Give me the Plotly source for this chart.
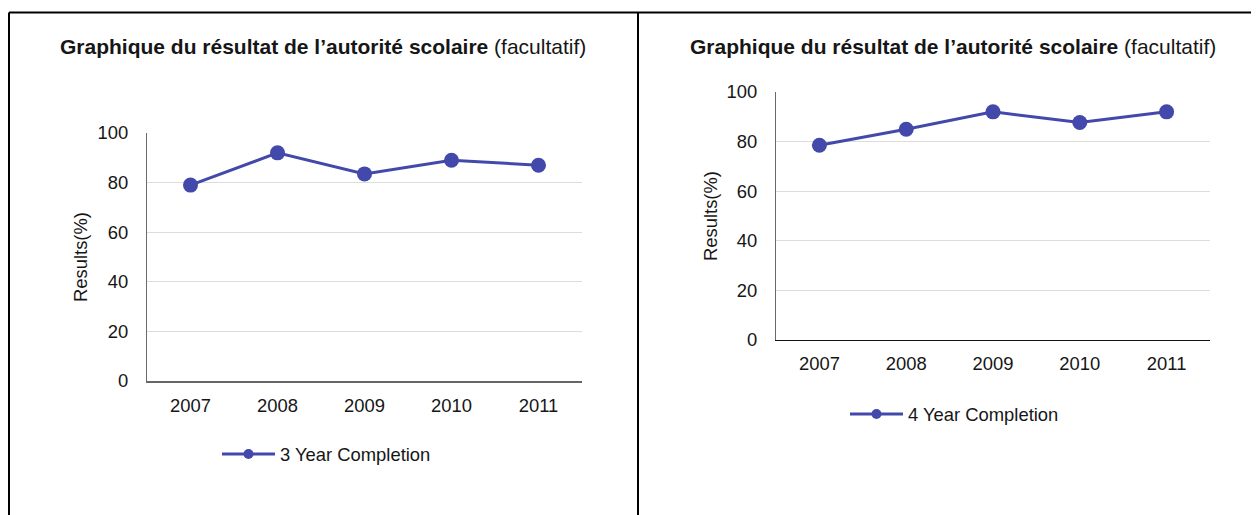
import plotly.graph_objects as go

# data
years = ["2007", "2008", "2009", "2010", "2011"]
three_year = [79, 92, 83.5, 89, 87]
four_year = [78.5, 85, 92, 87.7, 92]
y_ticks = [0, 20, 40, 60, 80, 100]

W, H = 1259, 515
OFF = 8  # page body margin
LINE = "#4249AA"
FONT = "Arial, Liberation Sans, sans-serif"
TXT = "#161616"
TITLE = "<b>Graphique du résultat de l’autorité scolaire</b> (facultatif)"


def px(x):
    return (x - OFF) / W


def py(y):
    return 1 - (y - OFF) / H


fig = go.Figure()

series = [
    ("3 Year Completion", three_year, "x", "y", "legend"),
    ("4 Year Completion", four_year, "x2", "y2", "legend2"),
]
for name, vals, xa_id, ya_id, leg_id in series:
    fig.add_trace(go.Scatter(
        x=years, y=vals, mode="lines+markers", name=name, showlegend=False,
        line=dict(color=LINE, width=3), marker=dict(size=15, color=LINE),
        xaxis=xa_id, yaxis=ya_id,
    ))
    # legend entry with the smaller symbol the reference uses
    fig.add_trace(go.Scatter(
        x=[None], y=[None], mode="lines+markers", name=name,
        line=dict(color=LINE, width=3), marker=dict(size=10, color=LINE),
        xaxis=xa_id, yaxis=ya_id, legend=leg_id,
    ))

tick_font = dict(family=FONT, size=18.4, color=TXT)
xa = dict(type="category", range=[-0.5, 4.5], showgrid=False, showline=True,
          ticks="", ticklabelstandoff=7, tickfont=tick_font, zeroline=False)
ya = dict(range=[0, 100], tickvals=y_ticks, showgrid=True, gridcolor="#dcdcdc",
          gridwidth=1, showline=True, linecolor="#6a6a6a", linewidth=1.3,
          ticks="", ticklabelstandoff=14, zeroline=False, tickfont=tick_font)
leg = dict(orientation="h", xanchor="left", yanchor="middle",
           font=dict(family=FONT, size=18.4, color=TXT), itemwidth=53,
           bgcolor="rgba(0,0,0,0)", borderwidth=0)

fig.update_layout(
    width=W, height=H,
    margin=dict(l=0, r=0, t=0, b=0, autoexpand=False),
    paper_bgcolor="white", plot_bgcolor="white",
    font=dict(family=FONT, color=TXT),
    xaxis=dict(xa, domain=[px(147), px(582)], anchor="y", linecolor="#666", linewidth=2),
    yaxis=dict(ya, domain=[py(381), py(133)], anchor="x"),
    xaxis2=dict(xa, domain=[px(776), px(1210)], anchor="y2", linecolor="#111", linewidth=1.2),
    yaxis2=dict(ya, domain=[py(340), py(92)], anchor="x2"),
    legend=dict(leg, x=px(217), y=py(454)),
    legend2=dict(leg, x=px(845), y=py(414)),
    showlegend=True,
    hovermode=False,
)

# panel titles and axis titles
for cx, cy in [(323, 46), (953, 46)]:
    fig.add_annotation(text=TITLE, x=px(cx), y=py(cy), xref="paper", yref="paper",
                       showarrow=False, xanchor="center", yanchor="middle",
                       font=dict(family=FONT, size=21, color=TXT))
for cx, cy in [(81, 257), (710, 216)]:
    fig.add_annotation(text="Results(%)", x=px(cx), y=py(cy), xref="paper", yref="paper",
                       showarrow=False, textangle=-90, xanchor="center", yanchor="middle",
                       font=dict(family=FONT, size=18.4, color=TXT))

# panel frame
frame = dict(type="line", xref="paper", yref="paper", line=dict(color="black", width=2))
fig.add_shape(frame, x0=px(9), x1=1, y0=py(12.5), y1=py(12.5))
fig.add_shape(frame, x0=px(9), x1=px(9), y0=py(12.5), y1=0)
fig.add_shape(frame, x0=px(638), x1=px(638), y0=py(12.5), y1=0)

fig.write_html("out.html")
